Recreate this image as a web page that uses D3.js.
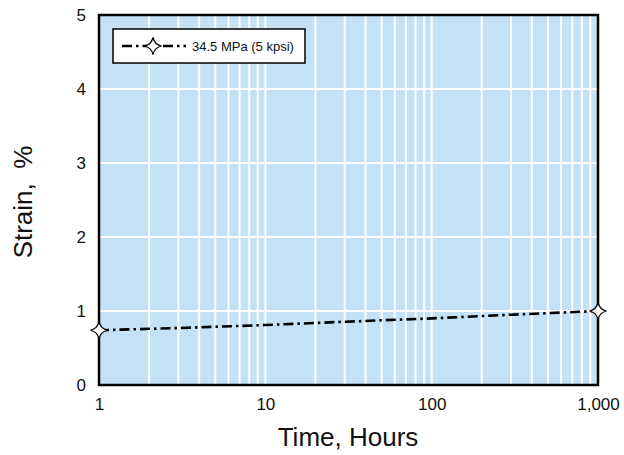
<!DOCTYPE html>
<html>
<head>
<meta charset="utf-8">
<script src="https://cdn.jsdelivr.net/npm/d3@7"></script>
<style>
  body { margin: 0; background: #fff; }
  text { font-family: "Liberation Sans", Arial, Helvetica, sans-serif; fill: #111; }
</style>
</head>
<body>
<div id="chart"></div>
<script>
// values
const hours = [1, 3, 10, 30, 100, 300, 1000];
const strain = [0.74, 0.77, 0.81, 0.855, 0.9, 0.95, 1.0];
const markerHours = [1, 1000];
const xTicks = [1, 10, 100, 1000];
const xTickLabels = ["1", "10", "100", "1,000"];
const yTicks = [0, 1, 2, 3, 4, 5];
const seriesName = "34.5 MPa (5 kpsi)";

const width = 624;
const height = 455;
const margin = { top: 15, right: 26, bottom: 70, left: 99 };
const w = width - margin.left - margin.right;
const h = height - margin.top - margin.bottom;

const svg = d3.select("#chart")
  .append("svg")
  .attr("width", width)
  .attr("height", height);

const g = svg.append("g")
  .attr("transform", `translate(${margin.left}, ${margin.top})`);

const x = d3.scaleLog().domain([1, 1000]).range([0, w]);
const y = d3.scaleLinear().domain([0, 5]).range([h, 0]);

g.append("rect")
  .attr("width", w)
  .attr("height", h)
  .attr("fill", "#c4e1f5");

// log grid: every 1..9 in each decade
const minor = d3.range(0, 3).flatMap(e => d3.range(1, 10).map(k => k * Math.pow(10, e))).filter(v => v > 1);

g.append("g")
  .selectAll("line")
  .data(minor)
  .enter()
  .append("line")
  .attr("x1", d => x(d))
  .attr("x2", d => x(d))
  .attr("y1", 0)
  .attr("y2", h)
  .attr("stroke", "#fff")
  .attr("stroke-width", 2);

g.append("g")
  .selectAll("line")
  .data(yTicks.filter(v => v > 0 && v < 5))
  .enter()
  .append("line")
  .attr("x1", 0)
  .attr("x2", w)
  .attr("y1", d => y(d))
  .attr("y2", d => y(d))
  .attr("stroke", "#fff")
  .attr("stroke-width", 2);

// axes (labels only, frame drawn separately)
const xAxis = g.append("g")
  .attr("transform", `translate(0, ${h})`)
  .call(d3.axisBottom(x).tickValues(xTicks).tickFormat((d, i) => xTickLabels[i]).tickSize(0).tickPadding(13));
xAxis.select(".domain").remove();
xAxis.selectAll("text").style("font-size", "17px").attr("fill", "#111");

const yAxis = g.append("g")
  .call(d3.axisLeft(y).tickValues(yTicks).tickFormat(d3.format("d")).tickSize(0).tickPadding(13));
yAxis.select(".domain").remove();
yAxis.selectAll("text").style("font-size", "17px").attr("fill", "#111");

g.append("rect")
  .attr("width", w)
  .attr("height", h)
  .attr("fill", "none")
  .attr("stroke", "#000")
  .attr("stroke-width", 2.5);

// series
const line = d3.line()
  .x((d, i) => x(hours[i]))
  .y(d => y(d));

const dash = "10,4,2.5,4";

g.append("path")
  .datum(strain)
  .attr("d", line)
  .attr("fill", "none")
  .attr("stroke", "#000")
  .attr("stroke-width", 2.6)
  .attr("stroke-dasharray", dash);

// four-point star with concave sides
function star(cx, cy, r) {
  const p = d3.path();
  const k = r * 0.18;
  p.moveTo(cx, cy - r);
  p.quadraticCurveTo(cx + k, cy - k, cx + r, cy);
  p.quadraticCurveTo(cx + k, cy + k, cx, cy + r);
  p.quadraticCurveTo(cx - k, cy + k, cx - r, cy);
  p.quadraticCurveTo(cx - k, cy - k, cx, cy - r);
  p.closePath();
  return p.toString();
}

g.append("g")
  .selectAll("path")
  .data(markerHours)
  .enter()
  .append("path")
  .attr("d", d => star(x(d), y(strain[hours.indexOf(d)]), 8.5))
  .attr("fill", "#fff")
  .attr("stroke", "#000")
  .attr("stroke-width", 1.2);

// legend
const legend = svg.append("g").attr("transform", "translate(113, 29)");
legend.append("rect")
  .attr("width", 192)
  .attr("height", 34)
  .attr("fill", "#fff")
  .attr("stroke", "#000")
  .attr("stroke-width", 1.5);
legend.append("line")
  .attr("x1", 9)
  .attr("x2", 73)
  .attr("y1", 17)
  .attr("y2", 17)
  .attr("stroke", "#000")
  .attr("stroke-width", 2.6)
  .attr("stroke-dasharray", dash);
legend.append("path")
  .attr("d", star(40, 17, 8.5))
  .attr("fill", "#fff")
  .attr("stroke", "#000")
  .attr("stroke-width", 1.2);
legend.append("text")
  .attr("x", 79)
  .attr("y", 22)
  .style("font-size", "13px")
  .text(seriesName);

// axis titles
svg.append("text")
  .attr("x", 348)
  .attr("y", 446)
  .attr("text-anchor", "middle")
  .style("font-size", "26px")
  .text("Time, Hours");

svg.append("text")
  .attr("transform", `translate(32, ${margin.top + h / 2 + 2}) rotate(-90)`)
  .attr("text-anchor", "middle")
  .style("font-size", "26px")
  .style("white-space", "pre")
  .text("Strain,  %");
</script>
</body>
</html>
